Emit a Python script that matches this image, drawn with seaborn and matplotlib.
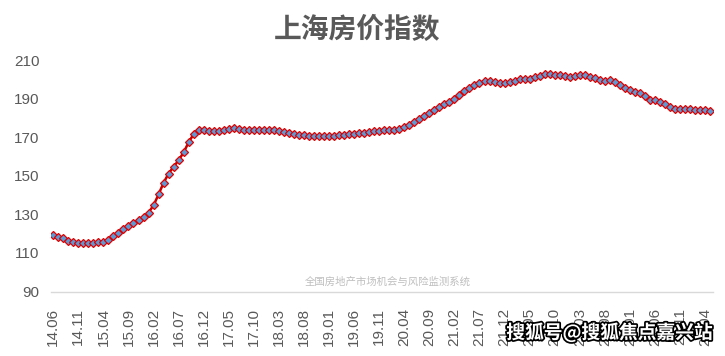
import matplotlib
matplotlib.use('Agg')
import matplotlib.pyplot as plt
import matplotlib.patheffects as pe
import numpy as np
import pandas as pd
import seaborn as sns

# monthly index, 2014.06 - 2025.05
values = [
    119.3, 118.4, 117.6, 116.4, 115.5, 115.2, 115.0, 115.2, 115.3, 115.5,
    115.8, 116.9, 118.6, 120.3, 122.4, 124.1, 125.5, 127.2, 128.6, 131.0,
    134.7, 140.4, 146.4, 151.2, 154.7, 158.1, 162.2, 167.4, 171.7, 173.8,
    173.8, 173.4, 173.1, 173.4, 173.9, 174.4, 174.6, 174.3, 173.9, 173.8,
    173.8, 173.8, 173.9, 173.8, 173.6, 173.2, 172.7, 172.2, 171.7, 171.3,
    171.0, 170.9, 170.7, 170.7, 170.7, 170.8, 170.8, 171.0, 171.3, 171.7,
    171.9, 172.0, 172.4, 172.7, 173.1, 173.4, 173.6, 173.6, 173.9, 174.4,
    175.3, 176.5, 177.9, 179.4, 181.0, 182.6, 184.1, 185.5, 187.2, 188.5,
    190.1, 192.1, 194.0, 195.7, 197.1, 198.3, 199.0, 199.2, 198.8, 198.3,
    198.1, 198.5, 199.3, 200.2, 200.4, 200.4, 201.1, 201.9, 202.6, 202.8,
    202.4, 202.1, 201.6, 201.2, 201.9, 202.4, 202.1, 201.4, 200.6, 199.9,
    199.2, 199.7, 198.5, 197.0, 195.6, 194.4, 193.5, 192.8, 191.4, 189.5,
    189.2, 188.5, 187.2, 185.6, 184.7, 184.6, 184.9, 184.6, 184.2, 184.1,
    184.1, 183.7,
]
tick_labels = ['14.06', '14.11', '15.04', '15.09', '16.02', '16.07', '16.12',
               '17.05', '17.10', '18.03', '18.08', '19.01', '19.06', '19.11',
               '20.04', '20.09', '21.02', '21.07', '21.12', '22.05', '22.10',
               '23.03', '23.08', '24.01', '24.06', '24.11', '25.04']
y_ticks = [90, 110, 130, 150, 170, 190, 210]

df = pd.DataFrame({'idx': np.arange(len(values)), 'index': values})

sns.set_theme(style='white')
plt.rcParams['font.family'] = ['Liberation Sans', 'Noto Sans CJK SC', 'DejaVu Sans']

fig = plt.figure(figsize=(7.25, 3.56), dpi=100)
ax = fig.add_axes([0.070, 0.181, 0.913, 0.650])

sns.lineplot(data=df, x='idx', y='index', ax=ax, color='#C00000', linewidth=1.8,
             marker='D', markersize=4, markerfacecolor='#5B9BD5',
             markeredgecolor='#E00000', markeredgewidth=0.9)

ax.set_xlim(-0.5, len(values) - 0.5)
ax.set_ylim(90, 210)
ax.set_xticks(np.arange(0, len(values), 5)[:len(tick_labels)])
ax.set_xticklabels(tick_labels, rotation=90)
ax.set_yticks(y_ticks)
ax.tick_params(axis='both', length=0, labelsize=11, labelcolor='#595959')
ax.tick_params(axis='x', pad=12)
ax.tick_params(axis='y', pad=8)
ax.set_xlabel('')
ax.set_ylabel('')
for s in ['top', 'right', 'left']:
    ax.spines[s].set_visible(False)
ax.spines['bottom'].set_color('#D9D9D9')
ax.spines['bottom'].set_linewidth(1)

fig.text(0.493, 0.915, '上海房价指数', ha='center', va='center', fontsize=20,
         fontweight='bold', color='#595959', family=['Noto Sans CJK SC'])
fig.text(0.535, 0.208, '全国房地产市场机会与风险监测系统', ha='center', va='center',
         fontsize=7.5, color='#BFBFBF', family=['Noto Sans CJK SC'])
fig.text(0.983, 0.065, '搜狐号@搜狐焦点嘉兴站', ha='right', va='center', fontsize=13.5,
         fontweight='bold', color='white', family=['Noto Sans CJK SC', 'DejaVu Sans'],
         path_effects=[pe.withStroke(linewidth=2.5, foreground='black')])

fig.savefig('out.png', dpi=100)
